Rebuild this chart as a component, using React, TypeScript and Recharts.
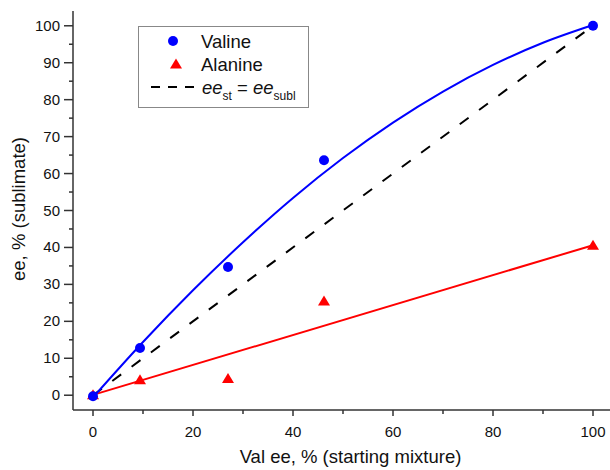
import React from 'react';
import { ComposedChart, Line, Scatter, XAxis, YAxis, Label } from 'recharts';

// measured points (starting mixture ee vs sublimate ee)
const startEe = [0, 9.4, 27, 46.2, 100];
const valineSubl = [-0.3, 12.8, 34.7, 63.6, 100];
const alanineSubl = [0.1, 4.2, 4.5, 25.5, 40.6];

// fitted curves
const fitX = [0, 10, 20, 30, 40, 50, 60, 70, 80, 90, 100];
const valineFit = [-0.6, 14.4, 28.4, 41.4, 53.4, 64.2, 73.8, 82.2, 89.4, 95.4, 100.2];
const alanineFitX = [0, 100];
const alanineFit = [0.1, 40.6];
const diagonalX = [0, 100];
const diagonalY = [0, 100];

const xTicks = [0, 10, 20, 30, 40, 50, 60, 70, 80, 90, 100];
const yTicks = [0, 5, 10, 15, 20, 25, 30, 35, 40, 45, 50, 55, 60, 65, 70, 75, 80, 85, 90, 95, 100];

const toPoints = (xs: number[], ys: number[]) => xs.map((x, i) => ({ x, y: ys[i] }));

const AXIS = '#333';
const TEXT = '#111';
const FONT = '"Liberation Sans", Arial, sans-serif';

const XTick = (props: any) => {
    const { x, y, payload } = props;
    const major = payload.value % 20 === 0;
    return (
        <g>
            <line x1={x} y1={y} x2={x} y2={y + (major ? 6 : 4)} stroke={AXIS} strokeWidth={1.5} />
            {major && (
                <text x={x} y={y + 27} textAnchor="middle" fontSize={15} fill={TEXT} fontFamily={FONT}>
                    {payload.value}
                </text>
            )}
        </g>
    );
};

const YTick = (props: any) => {
    const { x, y, payload } = props;
    const major = payload.value % 10 === 0;
    return (
        <g>
            <line x1={x} y1={y} x2={x - (major ? 9 : 4)} y2={y} stroke={AXIS} strokeWidth={1.5} />
            {major && (
                <text x={x - 13} y={y + 5} textAnchor="end" fontSize={15} fill={TEXT} fontFamily={FONT}>
                    {payload.value}
                </text>
            )}
        </g>
    );
};

const Circle = (props: any) => <circle cx={props.cx} cy={props.cy} r={5} fill="#0000FF" />;

const Triangle = (props: any) => {
    const { cx, cy } = props;
    return <polygon points={`${cx - 6},${cy + 4.5} ${cx + 6},${cy + 4.5} ${cx},${cy - 5.5}`} fill="#FF0000" />;
};

const ChartLegend = () => (
    <svg width={172} height={83} style={{ position: 'absolute', left: 138, top: 26 }} fontFamily={FONT}>
        <rect x={0.5} y={0.5} width={170} height={81} fill="#fff" stroke="#888" />
        <circle cx={35} cy={15} r={5} fill="#0000FF" />
        <text x={63} y={21.5} fontSize={18.5} fill={TEXT}>Valine</text>
        <polygon points="32,42.5 44,42.5 38,32.5" fill="#FF0000" />
        <text x={63} y={44.5} fontSize={18.5} fill={TEXT}>Alanine</text>
        <line x1={13} y1={61} x2={62} y2={61} stroke="#000" strokeWidth={2} strokeDasharray="9 8" />
        <text x={64} y={67.5} fontSize={18.5} fill={TEXT}>
            <tspan fontStyle="italic">ee</tspan>
            <tspan fontSize={12} dy={6}>st</tspan>
            <tspan dy={-6}> = </tspan>
            <tspan fontStyle="italic">ee</tspan>
            <tspan fontSize={12} dy={6}>subl</tspan>
        </text>
    </svg>
);

const App: React.FC = () => {
    return (
        <div style={{ position: 'absolute', left: 0, top: 0, width: 610, height: 470, background: '#fff' }}>
            <ComposedChart width={610} height={470} margin={{ top: 11, right: 0, left: 0, bottom: 0 }}>
                <XAxis
                    type="number"
                    dataKey="x"
                    domain={[-4, 103.4]}
                    ticks={xTicks}
                    interval={0}
                    allowDataOverflow
                    height={60}
                    tickSize={0}
                    tickMargin={0}
                    tick={<XTick />}
                    stroke={AXIS}
                    strokeWidth={1.5}
                >
                    <Label
                        content={(p: any) => (
                            <text
                                x={p.viewBox.x + p.viewBox.width / 2 + 9}
                                y={463}
                                textAnchor="middle"
                                fontSize={18.5}
                                fill={TEXT}
                                fontFamily={FONT}
                            >
                                Val ee, % (starting mixture)
                            </text>
                        )}
                    />
                </XAxis>
                <YAxis
                    type="number"
                    dataKey="y"
                    domain={[-4, 104]}
                    ticks={yTicks}
                    interval={0}
                    allowDataOverflow
                    width={73}
                    tickSize={0}
                    tickMargin={0}
                    tick={<YTick />}
                    stroke={AXIS}
                    strokeWidth={1.5}
                >
                    <Label
                        content={() => (
                            <text
                                x={25}
                                y={209}
                                transform="rotate(-90 25 209)"
                                textAnchor="middle"
                                fontSize={18.5}
                                fill={TEXT}
                                fontFamily={FONT}
                            >
                                ee, % (sublimate)
                            </text>
                        )}
                    />
                </YAxis>
                <Line
                    data={toPoints(diagonalX, diagonalY)}
                    dataKey="y"
                    type="linear"
                    stroke="#000"
                    strokeWidth={2}
                    strokeDasharray="11 13"
                    dot={false}
                    isAnimationActive={false}
                />
                <Line
                    data={toPoints(alanineFitX, alanineFit)}
                    dataKey="y"
                    type="linear"
                    stroke="#FF0000"
                    strokeWidth={2}
                    dot={false}
                    isAnimationActive={false}
                />
                <Line
                    data={toPoints(fitX, valineFit)}
                    dataKey="y"
                    type="monotone"
                    stroke="#0000FF"
                    strokeWidth={2}
                    dot={false}
                    isAnimationActive={false}
                />
                <Scatter data={toPoints(startEe, alanineSubl)} dataKey="y" shape={<Triangle />} isAnimationActive={false} />
                <Scatter data={toPoints(startEe, valineSubl)} dataKey="y" shape={<Circle />} isAnimationActive={false} />
            </ComposedChart>
            <ChartLegend />
        </div>
    );
};

export default App;
